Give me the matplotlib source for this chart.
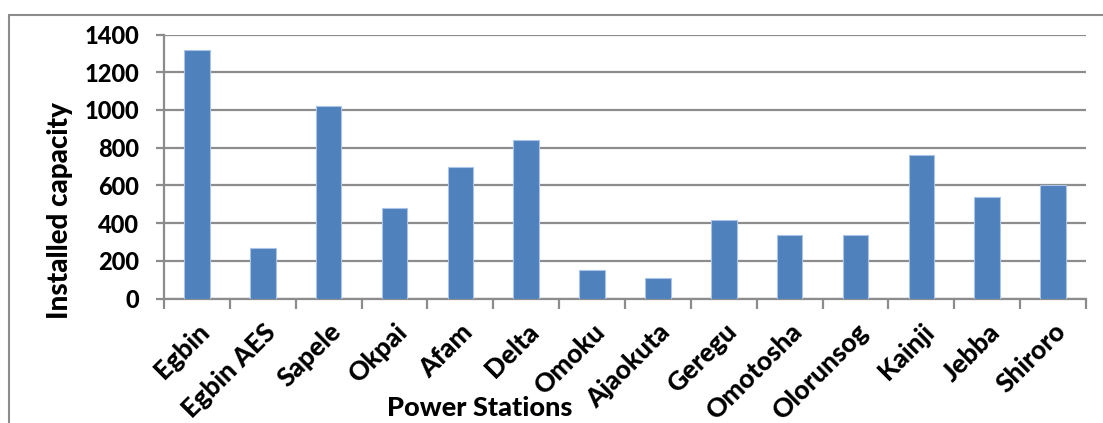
import matplotlib
matplotlib.use("Agg")
import matplotlib.pyplot as plt
from matplotlib.patches import Rectangle
import numpy as np

stations = ["Egbin", "Egbin AES", "Sapele", "Okpai", "Afam", "Delta", "Omoku",
            "Ajaokuta", "Geregu", "Omotosha", "Olorunsog", "Kainji", "Jebba", "Shiroro"]
capacity = [1320, 270, 1020, 480, 700, 840, 150, 110, 414, 335, 335, 760, 540, 600]
y_ticks = [0, 200, 400, 600, 800, 1000, 1200, 1400]

plt.rcParams["font.family"] = ["Lato", "DejaVu Sans"]
WEIGHT = 900

W, H = 1103, 423
fig = plt.figure(figsize=(W / 100, H / 100), dpi=100)
ax = fig.add_axes([164 / W, 1 - 298.5 / H, (1086 - 164) / W, (298.5 - 34.5) / H])

grid_c = "#8c8c8c"
x = np.arange(len(stations))
ax.bar(x, capacity, width=0.39, color="#4F81BD", edgecolor="#a9c4e6", linewidth=0.8, zorder=3)

ax.set_xlim(-0.5, len(stations) - 0.5)
ax.set_ylim(0, 1400)
ax.set_yticks(y_ticks)
ax.set_yticklabels([str(v) for v in y_ticks], fontsize=17, fontweight=WEIGHT)
ax.yaxis.grid(True, color=grid_c, linewidth=1.6, zorder=0)
ax.tick_params(axis="y", length=6, width=1.6, color=grid_c, pad=12, direction="out")

ax.set_xticks(x)
ax.set_xticklabels(stations, fontsize=19, fontweight=WEIGHT,
                   rotation=45, ha="right", rotation_mode="anchor")
ax.tick_params(axis="x", which="major", length=0, pad=15)
ax.set_xticks(np.arange(-0.5, len(stations), 1.0), minor=True)
ax.tick_params(axis="x", which="minor", length=7, width=1.6, color=grid_c, direction="out")

for s in ["top", "right"]:
    ax.spines[s].set_visible(False)
for s in ["left", "bottom"]:
    ax.spines[s].set_color(grid_c)
    ax.spines[s].set_linewidth(1.6)

fig.text(480 / W, 1 - 408 / H, "Power Stations", fontsize=19.5, fontweight=WEIGHT,
         ha="center", va="center")
fig.text(60 / W, 1 - 211 / H, "Installed capacity", fontsize=20, fontweight=WEIGHT,
         ha="center", va="center", rotation=90)

fig.patches.append(Rectangle((9 / W, -0.05), 1.2, 1 - 15 / H + 0.05, transform=fig.transFigure,
                             fill=False, edgecolor=grid_c, linewidth=1.5))

fig.savefig("out.png", dpi=100)
